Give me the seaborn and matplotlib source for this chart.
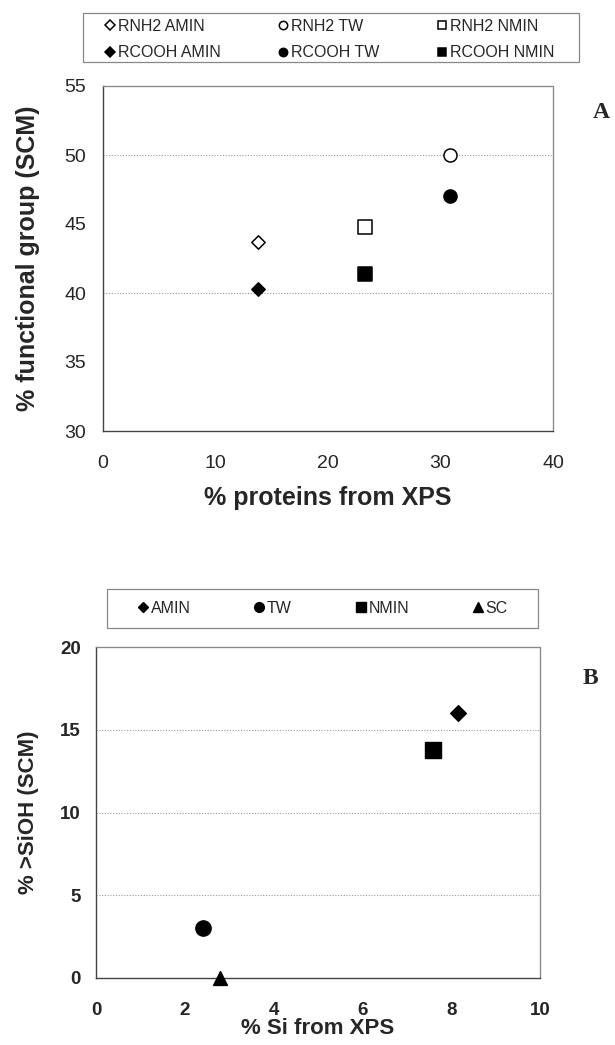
import matplotlib
matplotlib.use("Agg")
import matplotlib.pyplot as plt
from matplotlib.lines import Line2D
from matplotlib.patches import Rectangle
import seaborn as sns

# Panel A data: samples AMIN, TW, NMIN
samples = ["AMIN", "TW", "NMIN"]
protein_xps = [13.8, 30.8, 23.3]
rnh2_scm = [43.7, 50.0, 44.8]
rcooh_scm = [40.3, 47.0, 41.4]

# Panel B data: AMIN, TW, NMIN, SC
samples_b = ["AMIN", "TW", "NMIN", "SC"]
si_xps = [8.15, 2.4, 7.6, 2.8]
sioh_scm = [16.0, 3.0, 13.8, 0.0]

markers_a = {"AMIN": "D", "TW": "o", "NMIN": "s"}
sizes_a = {"AMIN": 6.8, "TW": 9.4, "NMIN": 9.6}
markers_b = {"AMIN": "D", "TW": "o", "NMIN": "s", "SC": "^"}
sizes_b = {"AMIN": 8.0, "TW": 11.0, "NMIN": 11.0, "SC": 10.0}

sns.set_style("white")
plt.rcParams["font.family"] = ["Liberation Sans", "DejaVu Sans"]

W, H = 615, 1045
fig = plt.figure(figsize=(6.15, 10.45), dpi=100)
ax_a = fig.add_axes([103 / W, 1 - 431 / H, 450 / W, 345 / H])
ax_b = fig.add_axes([96 / W, 1 - 978 / H, 444 / W, 331 / H])


def style_axes(ax):
    for side in ["left", "bottom"]:
        ax.spines[side].set_color("#444444")
        ax.spines[side].set_linewidth(1.0)
    for side in ["top", "right"]:
        ax.spines[side].set_color("#888888")
        ax.spines[side].set_linewidth(0.9)
        ax.spines[side].set_linestyle((0, (1, 0.6)))
    ax.tick_params(direction="in", length=4, width=0.8, color="#555555")


# 1. Panel A
for i, name in enumerate(samples):
    sns.scatterplot(x=[protein_xps[i]], y=[rnh2_scm[i]], marker=markers_a[name],
                    s=sizes_a[name] ** 2, color="white", edgecolor="black",
                    linewidth=1.1, ax=ax_a, legend=False, zorder=3)
    sns.scatterplot(x=[protein_xps[i]], y=[rcooh_scm[i]], marker=markers_a[name],
                    s=sizes_a[name] ** 2, color="black", edgecolor="black",
                    linewidth=1.1, ax=ax_a, legend=False, zorder=3)

ax_a.set_xlim(0, 40)
ax_a.set_ylim(30, 55)
ax_a.set_xticks([0, 10, 20, 30, 40])
ax_a.set_yticks([30, 35, 40, 45, 50, 55])
for gy in [40, 50]:
    ax_a.axhline(gy, color="#999999", linewidth=0.8, linestyle=(0, (1, 1.5)), zorder=1)
style_axes(ax_a)
ax_a.tick_params(labelsize=14)
ax_a.tick_params(axis="x", pad=17)
ax_a.tick_params(axis="y", pad=12)
ax_a.set_xlabel("% proteins from XPS", fontsize=18, fontweight="bold")
ax_a.set_ylabel("% functional group (SCM)", fontsize=18, fontweight="bold")
ax_a.xaxis.set_label_coords(0.5, -0.16)
ax_a.yaxis.set_label_coords(-0.14, 0.5)

# 2. Panel B
for i, name in enumerate(samples_b):
    sns.scatterplot(x=[si_xps[i]], y=[sioh_scm[i]], marker=markers_b[name],
                    s=sizes_b[name] ** 2, color="black", edgecolor="black",
                    linewidth=1.0, ax=ax_b, legend=False, zorder=3)

ax_b.set_xlim(0, 10)
ax_b.set_ylim(0, 20)
ax_b.set_xticks([0, 2, 4, 6, 8, 10])
ax_b.set_yticks([0, 5, 10, 15, 20])
for gy in [5, 10, 15]:
    ax_b.axhline(gy, color="#999999", linewidth=0.8, linestyle=(0, (1, 1.5)), zorder=1)
style_axes(ax_b)
ax_b.tick_params(labelsize=13.5)
ax_b.tick_params(axis="x", pad=17)
ax_b.tick_params(axis="y", pad=11)
for lab in ax_b.get_xticklabels() + ax_b.get_yticklabels():
    lab.set_fontweight("bold")
ax_b.set_xlabel("% Si from XPS", fontsize=16, fontweight="bold")
ax_b.set_ylabel("% >SiOH (SCM)", fontsize=16, fontweight="bold")
ax_b.xaxis.set_label_coords(0.5, -0.12)
ax_b.yaxis.set_label_coords(-0.128, 0.5)

for ax in [ax_a, ax_b]:
    for coll in ax.collections:
        coll.set_clip_on(False)

# 3. Legends (frame drawn separately so the entries can sit inset)
handles_a, labels_a = [], []
for prefix, face in [("RNH2", "white"), ("RCOOH", "black")]:
    for name in samples:
        ms = 6 if markers_a[name] != "D" else 5
        handles_a.append(Line2D([], [], linestyle="none", marker=markers_a[name],
                                markersize=ms, markerfacecolor=face,
                                markeredgecolor="black", markeredgewidth=1.1))
        labels_a.append(f"{prefix} {name}")
order = [0, 3, 1, 4, 2, 5]
fig.legend([handles_a[k] for k in order], [labels_a[k] for k in order],
           ncol=3, loc="center", mode="expand",
           bbox_to_anchor=(104 / W, 1 - 64 / H, 450 / W, 49 / H),
           fontsize=11.5, frameon=False, handlelength=0.7, handletextpad=0.15,
           borderpad=0, labelspacing=0.7, borderaxespad=0)
fig.patches.append(Rectangle((83 / W, 1 - 62 / H), 496 / W, 49 / H,
                             transform=fig.transFigure, fill=False,
                             edgecolor="#888888", linewidth=0.9))

handles_b = []
for name in samples_b:
    ms = 7 if markers_b[name] != "D" else 5.5
    handles_b.append(Line2D([], [], linestyle="none", marker=markers_b[name],
                            markersize=ms, markerfacecolor="black",
                            markeredgecolor="black"))
fig.legend(handles_b, samples_b, ncol=4, loc="center", mode="expand",
           bbox_to_anchor=(137 / W, 1 - 628 / H, 371 / W, 39 / H),
           fontsize=11.5, frameon=False, handlelength=0.7, handletextpad=0.15,
           borderpad=0, borderaxespad=0)
fig.patches.append(Rectangle((107 / W, 1 - 628 / H), 431 / W, 39 / H,
                             transform=fig.transFigure, fill=False,
                             edgecolor="#888888", linewidth=0.9))

# 4. Panel letters
fig.text(601 / W, 1 - 113 / H, "A", family="Liberation Serif", fontweight="bold",
         fontsize=17, ha="center", va="center")
fig.text(590 / W, 1 - 678 / H, "B", family="Liberation Serif", fontweight="bold",
         fontsize=17, ha="center", va="center")

fig.savefig("out.png", dpi=100)
